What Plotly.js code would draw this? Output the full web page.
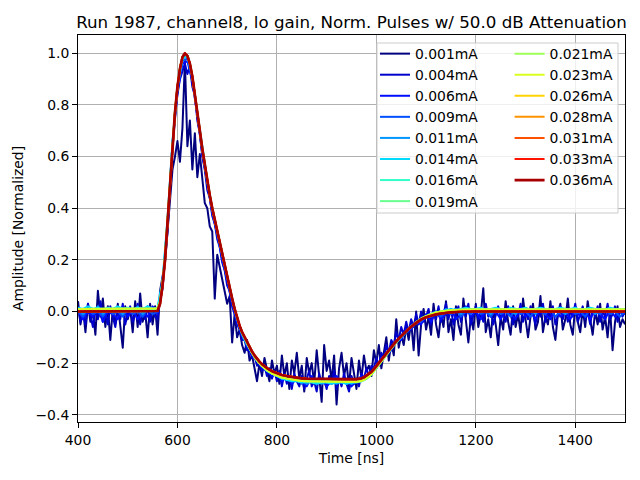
<!DOCTYPE html>
<html><head><meta charset="utf-8">
<script src="https://cdn.plot.ly/plotly-3.0.1.min.js"></script>
<style>html,body{margin:0;padding:0;background:#fff}#chart{width:640px;height:480px}path.js-line{stroke-linejoin:round}</style>
</head><body><div id="chart"></div><script>
const currents = ['0.001mA','0.004mA','0.006mA','0.009mA','0.011mA','0.014mA','0.016mA','0.019mA',
                  '0.021mA','0.023mA','0.026mA','0.028mA','0.031mA','0.033mA','0.036mA'];
const colors = ['#000080','#0000cd','#000cff','#0050ff','#0096ff','#00dbfc','#30ffc7','#68ff8f',
                '#a0ff57','#d8ff1f','#ffd300','#ff9300','#ff5000','#ff1400','#a80000'];
const lineWidths = [2,2,2,2,2,2,2,2,2,2,2,2,2,2,2.7];
const sampleStartNs = 400;
const fineStepNs = 5;
const coarseStepNs = 10;

// 0.001 mA, 5 ns samples from 400 ns
const amp001 = [
 0.04,-0.05,0.01,-0.08,0.03,-0.04,0.00,-0.09,0.08,-0.02,
 0.05,-0.06,0.02,-0.11,0.01,-0.05,0.03,-0.07,-0.14,0.02,
 -0.03,0.01,-0.08,0.04,-0.06,0.07,-0.04,0.00,-0.10,0.03,
 -0.05,0.02,-0.09,0.08,0.14,0.19,0.31,0.44,0.55,0.60,
 0.66,0.58,0.71,0.97,0.64,0.74,0.55,0.69,0.52,0.61,
 0.50,0.42,0.40,0.33,0.31,0.05,0.22,0.17,0.13,0.08,
 0.03,0.06,-0.12,-0.01,-0.10,-0.07,-0.13,-0.16,-0.11,-0.19,
 -0.17,-0.22,-0.27,-0.20,-0.25,-0.18,-0.23,-0.27,-0.19,-0.24,
 -0.21,-0.28,-0.17,-0.25,-0.20,-0.30,-0.19,-0.24,-0.16,-0.26,
 -0.21,-0.31,-0.18,-0.24,-0.20,-0.28,-0.15,-0.26,-0.35,-0.13,
 -0.23,-0.19,-0.27,-0.17,-0.36,-0.22,-0.16,-0.25,-0.20,-0.29,
 -0.18,-0.24,-0.30,-0.19,-0.26,-0.17,-0.23,-0.21,-0.25,-0.15,
 -0.20,-0.13,-0.22,-0.16,-0.10,-0.19,-0.12,-0.17,-0.03,-0.14,
 -0.09,-0.13,-0.06,-0.11,-0.04,-0.15,0.00,-0.17,-0.05,0.01,
 -0.07,-0.02,-0.09,0.03,-0.05,-0.10,-0.01,-0.06,0.04,-0.08,
 -0.03,-0.11,0.02,-0.05,-0.09,0.05,-0.04,-0.12,-0.02,-0.07,
 0.03,-0.06,-0.01,0.09,-0.08,-0.03,-0.10,0.01,-0.05,-0.13,
 -0.02,-0.07,0.04,-0.04,-0.09,0.02,-0.06,-0.01,-0.08,0.05,
 -0.03,-0.10,-0.02,0.03,-0.07,-0.04,0.06,-0.08,-0.02,-0.05,
 0.04,-0.06,-0.11,-0.01,0.03,-0.07,-0.03,0.05,-0.05,-0.09,
 0.02,-0.04,-0.08,0.01,-0.06,0.04,-0.03,-0.09,0.00,-0.05,
 0.03,-0.07,-0.02,-0.10,0.01,-0.15,-0.04,0.02,-0.06,-0.03,
 -0.05];

// 0.004 mA, 5 ns samples from 400 ns
const amp004 = [
 0.02,-0.04,0.00,-0.05,0.03,-0.02,-0.06,0.01,-0.03,0.04,
 -0.04,0.00,-0.05,0.02,-0.02,-0.06,0.01,-0.03,0.03,-0.05,
 -0.01,0.02,-0.04,-0.01,0.03,-0.05,0.00,-0.03,0.02,-0.04,
 0.01,-0.02,-0.03,0.05,0.09,0.21,0.31,0.49,0.61,0.76,
 0.84,0.90,0.93,0.96,0.92,0.95,0.87,0.84,0.74,0.69,
 0.60,0.55,0.47,0.44,0.37,0.34,0.28,0.25,0.19,0.16,
 0.10,0.08,0.02,-0.01,-0.05,-0.07,-0.11,-0.11,-0.15,-0.15,
 -0.18,-0.17,-0.21,-0.20,-0.23,-0.21,-0.25,-0.22,-0.26,-0.23,
 -0.27,-0.23,-0.29,-0.24,-0.28,-0.25,-0.30,-0.24,-0.27,-0.29,
 -0.25,-0.30,-0.26,-0.23,-0.29,-0.27,-0.31,-0.24,-0.28,-0.26,
 -0.30,-0.25,-0.28,-0.23,-0.30,-0.26,-0.29,-0.24,-0.28,-0.31,
 -0.25,-0.28,-0.26,-0.29,-0.24,-0.26,-0.22,-0.25,-0.21,-0.22,
 -0.18,-0.21,-0.16,-0.18,-0.13,-0.16,-0.11,-0.13,-0.08,-0.11,
 -0.06,-0.09,-0.04,-0.08,-0.03,-0.06,-0.01,-0.05,0.00,-0.04,
 -0.02,0.01,-0.05,0.00,-0.03,0.02,-0.04,-0.01,0.03,-0.03,
 0.01,-0.05,-0.01,0.02,-0.04,0.00,-0.02,0.03,-0.05,-0.01,
 0.02,-0.03,0.00,-0.04,0.03,-0.02,0.01,-0.05,-0.01,0.02,
 -0.03,0.00,-0.04,0.02,-0.01,-0.05,0.01,-0.02,0.03,-0.04,
 0.00,-0.03,0.02,-0.01,-0.05,0.01,-0.02,0.03,-0.04,0.00,
 -0.02,0.02,-0.05,-0.01,0.02,-0.03,0.01,-0.04,0.00,-0.02,
 0.03,-0.04,-0.01,0.02,-0.03,0.00,-0.05,0.01,-0.02,0.02,
 -0.04,0.00,-0.02,0.03,-0.03,-0.01,0.02,-0.04,0.01,-0.02,
 0.00];

// 0.006 mA, 10 ns samples from 400 ns
const amp006 = [
 0.01,-0.03,0.00,-0.02,0.02,-0.04,0.00,-0.01,-0.03,0.02,
 -0.02,0.01,-0.03,0.00,-0.02,0.02,-0.01,0.09,0.33,0.64,
 0.85,0.96,0.97,0.89,0.76,0.61,0.50,0.38,0.30,0.20,
 0.12,0.03,-0.04,-0.09,-0.13,-0.17,-0.19,-0.22,-0.23,-0.25,
 -0.24,-0.27,-0.25,-0.28,-0.26,-0.27,-0.29,-0.25,-0.28,-0.26,
 -0.29,-0.27,-0.25,-0.28,-0.26,-0.29,-0.27,-0.25,-0.26,-0.23,
 -0.22,-0.18,-0.17,-0.15,-0.11,-0.11,-0.07,-0.07,-0.04,-0.05,
 -0.01,-0.04,0.00,-0.03,-0.01,0.01,-0.03,-0.01,0.02,-0.02,
 0.00,-0.03,0.01,-0.02,0.00,-0.03,0.01,-0.01,-0.03,0.02,
 -0.02,0.00,-0.03,0.01,-0.01,-0.03,0.01,-0.02,0.00,-0.03,
 0.01,-0.02,0.00,-0.03,0.01,-0.01,-0.03,0.01,-0.02,0.00,
 -0.01];

// 0.009 mA, 10 ns samples from 400 ns
const amp009 = [
 0.00,-0.02,0.01,-0.01,0.00,-0.02,0.01,-0.01,0.00,-0.02,
 0.01,-0.01,0.00,-0.02,0.01,-0.01,0.00,0.10,0.34,0.65,
 0.86,0.97,0.98,0.90,0.77,0.62,0.50,0.39,0.30,0.21,
 0.12,0.04,-0.03,-0.09,-0.13,-0.16,-0.19,-0.21,-0.23,-0.24,
 -0.25,-0.26,-0.25,-0.27,-0.26,-0.28,-0.26,-0.27,-0.28,-0.26,
 -0.27,-0.28,-0.26,-0.27,-0.28,-0.26,-0.27,-0.26,-0.25,-0.24,
 -0.21,-0.19,-0.16,-0.14,-0.12,-0.09,-0.08,-0.06,-0.04,-0.04,
 -0.02,-0.02,0.00,-0.02,0.00,-0.01,0.01,-0.02,0.00,-0.01,
 0.01,-0.01,0.00,-0.02,0.01,-0.01,0.00,-0.02,0.01,-0.01,
 0.00,-0.02,0.01,0.00,-0.01,0.01,-0.02,0.00,-0.01,0.01,
 -0.01,0.00,-0.02,0.01,0.00,-0.01,0.01,-0.01,0.00,-0.02,
 0.00];

// 0.011 mA, 10 ns samples from 400 ns
const amp011 = [
 0.01,-0.01,0.01,0.00,0.02,-0.01,0.01,0.00,0.01,-0.01,
 0.01,0.00,0.02,-0.01,0.01,0.00,0.01,0.11,0.35,0.65,
 0.87,0.98,0.99,0.91,0.77,0.63,0.50,0.40,0.31,0.22,
 0.13,0.05,-0.03,-0.09,-0.13,-0.16,-0.19,-0.21,-0.23,-0.24,
 -0.25,-0.26,-0.26,-0.27,-0.26,-0.27,-0.28,-0.27,-0.27,-0.28,
 -0.27,-0.27,-0.28,-0.27,-0.27,-0.28,-0.27,-0.27,-0.26,-0.24,
 -0.22,-0.19,-0.17,-0.14,-0.12,-0.10,-0.08,-0.06,-0.04,-0.03,
 -0.02,-0.01,0.00,-0.01,0.01,0.00,0.01,-0.01,0.01,0.00,
 0.01,0.00,0.01,-0.01,0.01,0.00,0.01,0.00,-0.01,0.01,
 0.00,0.01,-0.01,0.01,0.00,0.01,0.00,0.01,-0.01,0.01,
 0.00,0.01,0.00,0.01,-0.01,0.01,0.00,0.01,0.00,0.01,
 0.00];

// 0.014 mA, 10 ns samples from 400 ns
const amp014 = [
 0.015,0.01,0.02,0.01,0.015,0.005,0.015,0.01,0.02,0.01,
 0.015,0.005,0.015,0.01,0.02,0.01,0.015,0.12,0.36,0.66,
 0.87,0.98,0.99,0.91,0.77,0.63,0.51,0.40,0.31,0.22,
 0.13,0.05,-0.03,-0.085,-0.125,-0.16,-0.19,-0.21,-0.23,-0.24,
 -0.25,-0.26,-0.265,-0.27,-0.27,-0.275,-0.27,-0.275,-0.28,-0.275,
 -0.275,-0.28,-0.275,-0.275,-0.28,-0.275,-0.275,-0.27,-0.26,-0.245,
 -0.22,-0.195,-0.17,-0.145,-0.12,-0.10,-0.08,-0.06,-0.045,-0.03,
 -0.02,-0.01,-0.005,0.00,0.005,0.01,0.005,0.01,0.015,0.01,
 0.01,0.015,0.005,0.01,0.015,0.01,0.005,0.015,0.01,0.01,
 0.015,0.005,0.01,0.015,0.01,0.005,0.01,0.015,0.01,0.01,
 0.015,0.005,0.01,0.015,0.01,0.01,0.005,0.015,0.01,0.01,
 0.01];

// sample times (ns) for the smooth higher-current pulses
const cleanTimes = [400,500,555,560,
 565,570,575,580,585,590,595,600,605,610,615,620,625,630,635,640,645,650,655,660,
 665,670,675,680,685,690,695,700,705,710,715,720,725,730,735,740,745,750,755,760,
 765,770,775,780,
 790,800,810,820,830,840,850,860,
 880,900,940,960,
 965,970,975,980,985,990,995,1000,1005,1010,1015,1020,
 1030,1040,1050,1060,1070,1080,1090,1100,1110,1120,1130,1140,1150,
 1170,1200,1500];

// 0.016 - 0.023 mA
const midAmp = [0.01,0.01,0.01,0.012,
 0.04,0.11,0.21,0.36,0.51,0.655,0.775,0.872,0.942,0.985,
 1.0,0.99,0.96,0.91,0.845,0.77,0.70,0.63,0.565,0.505,
 0.45,0.40,0.355,0.31,0.265,0.22,0.175,0.13,0.09,0.05,
 0.01,-0.026,-0.057,-0.083,-0.104,-0.125,-0.145,-0.161,-0.176,-0.19,
 -0.201,-0.211,-0.22,-0.227,
 -0.24,-0.249,-0.256,-0.26,-0.264,-0.267,-0.269,-0.27,
 -0.271,-0.272,-0.272,-0.272,
 -0.271,-0.269,-0.265,-0.259,-0.252,-0.243,-0.232,-0.219,-0.206,-0.193,-0.18,-0.167,
 -0.142,-0.118,-0.096,-0.076,-0.058,-0.042,-0.028,-0.018,-0.01,-0.004,0.0,0.003,0.005,
 0.007,0.008,0.008];

// 0.026 - 0.036 mA
const cleanAmp = [0.0,0.0,0.0,0.002,
 0.03,0.10,0.20,0.35,0.50,0.65,0.77,0.87,0.94,0.985,
 1.0,0.99,0.96,0.91,0.845,0.77,0.70,0.63,0.565,0.505,
 0.45,0.40,0.355,0.31,0.265,0.22,0.175,0.13,0.09,0.05,
 0.01,-0.025,-0.055,-0.08,-0.10,-0.12,-0.14,-0.155,-0.17,-0.183,
 -0.194,-0.204,-0.212,-0.219,
 -0.231,-0.24,-0.246,-0.25,-0.254,-0.257,-0.259,-0.26,
 -0.261,-0.262,-0.262,-0.262,
 -0.261,-0.259,-0.255,-0.249,-0.243,-0.234,-0.223,-0.211,-0.198,-0.186,-0.174,-0.162,
 -0.138,-0.115,-0.095,-0.076,-0.059,-0.044,-0.031,-0.022,-0.016,-0.011,-0.008,-0.005,-0.003,
 -0.001,0.0,0.0];

const xTicks = [400,600,800,1000,1200,1400];
const yTicks = [-0.4,-0.2,0.0,0.2,0.4,0.6,0.8,1.0];

const FONT = 'DejaVu Sans, Liberation Sans, sans-serif';

const seriesData = [
 {y: amp001, x0: sampleStartNs, dx: fineStepNs},
 {y: amp004, x0: sampleStartNs, dx: fineStepNs},
 {y: amp006, x0: sampleStartNs, dx: coarseStepNs},
 {y: amp009, x0: sampleStartNs, dx: coarseStepNs},
 {y: amp011, x0: sampleStartNs, dx: coarseStepNs},
 {y: amp014, x0: sampleStartNs, dx: coarseStepNs},
 {x: cleanTimes, y: midAmp},
 {x: cleanTimes, y: midAmp},
 {x: cleanTimes, y: midAmp},
 {x: cleanTimes, y: midAmp},
 {x: cleanTimes, y: cleanAmp},
 {x: cleanTimes, y: cleanAmp},
 {x: cleanTimes, y: cleanAmp},
 {x: cleanTimes, y: cleanAmp},
 {x: cleanTimes, y: cleanAmp}
];

const traces = seriesData.map((s, i) => Object.assign({
  type: 'scatter', mode: 'lines', name: currents[i],
  line: {color: colors[i], width: lineWidths[i]},
  legend: i < 8 ? 'legend' : 'legend2',
  hoverinfo: 'skip'
}, s));

const legendCommon = {
  xanchor: 'left', yanchor: 'top', bgcolor: 'rgba(0,0,0,0)', borderwidth: 0,
  font: {family: FONT, size: 13.9, color: '#000'}, tracegroupgap: 0, itemwidth: 30
};

const layout = {
  width: 640, height: 480,
  paper_bgcolor: '#fff', plot_bgcolor: '#fff',
  margin: {l: 78, r: 15, t: 35, b: 58, pad: 0},
  showlegend: true,
  font: {family: FONT, size: 13.9, color: '#000'},
  title: {text: 'Run 1987, channel8, lo gain, Norm. Pulses w/ 50.0 dB Attenuation',
          font: {family: FONT, size: 16.7, color: '#000'},
          x: 0.5, xref: 'paper', xanchor: 'center', y: 0.954, yref: 'container', yanchor: 'middle'},
  xaxis: {range: [400, 1500], tickvals: xTicks, ticktext: xTicks.map(String),
          ticks: 'outside', ticklen: 5, tickwidth: 1, tickcolor: '#000',
          showline: true, linecolor: '#000', linewidth: 1, mirror: true,
          showgrid: true, gridcolor: '#b0b0b0', gridwidth: 1, zeroline: false,
          tickfont: {family: FONT, size: 13.9, color: '#000'},
          title: {text: 'Time [ns]', font: {family: FONT, size: 13.9, color: '#000'}, standoff: 6}},
  yaxis: {range: [-0.428, 1.071], tickvals: yTicks, tickformat: '.1f',
          ticks: 'outside', ticklen: 5, tickwidth: 1, tickcolor: '#000',
          showline: true, linecolor: '#000', linewidth: 1, mirror: true,
          showgrid: true, gridcolor: '#b0b0b0', gridwidth: 1, zeroline: false,
          tickfont: {family: FONT, size: 13.9, color: '#000'},
          title: {text: 'Amplitude [Normalized]', font: {family: FONT, size: 13.9, color: '#000'}, standoff: 8}},
  legend: Object.assign({x: 0.543, y: 0.992}, legendCommon),
  legend2: Object.assign({x: 0.789, y: 0.992}, legendCommon),
  shapes: [{type: 'rect', xref: 'paper', yref: 'paper', x0: 0.5466, x1: 0.9872, y0: 0.540, y1: 0.9793,
            fillcolor: 'rgba(255,255,255,0.8)', line: {color: '#cccccc', width: 1}, layer: 'above'}]
};

Plotly.newPlot('chart', traces, layout, {displayModeBar: false, staticPlot: true});
</script></body></html>
